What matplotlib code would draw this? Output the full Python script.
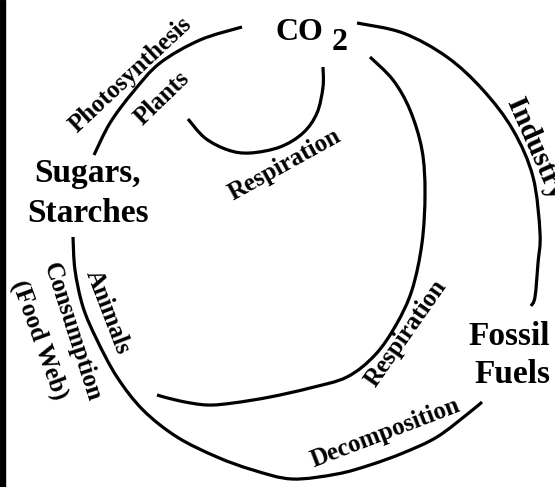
import numpy as np
import matplotlib
matplotlib.use('Agg')
import matplotlib.pyplot as plt
from matplotlib.path import Path
from matplotlib.patches import PathPatch, Rectangle

# Curves of the carbon cycle (pixel coords, y down)
photo_x = [94, 110, 133, 160, 200, 242]
photo_y = [155, 123, 92, 63, 40, 27]

plant_resp_x = [188, 205, 228, 250, 280, 303, 317, 323, 323]
plant_resp_y = [119, 138, 150, 153, 147, 133, 113, 87, 67]

animal_resp_x = [370, 393, 410, 422, 425, 422, 412, 396, 375, 347, 310, 270, 233, 207, 180, 157]
animal_resp_y = [57, 80, 110, 150, 193, 243, 290, 325, 355, 377, 388, 397, 403, 405, 401, 395]

industry_x = [357, 403, 447, 483, 513, 533, 540, 538, 535, 531]
industry_y = [23, 33, 57, 90, 130, 177, 233, 263, 297, 306]

consume_x = [73, 75, 83, 97, 117, 143, 177, 217, 253, 292, 337, 370, 403, 437, 470, 482]
consume_y = [237, 270, 307, 340, 377, 410, 437, 457, 470, 479, 474, 465, 453, 437, 412, 402]

# Node labels
nodes = ['Sugars,', 'Starches', 'Fossil', 'Fuels']
# Process labels along the arcs
processes = ['Photosynthesis', 'Plants', 'Respiration', 'Industry', 'Respiration',
             'Decomposition', 'Animals', 'Consumption', '(Food Web)']


def smooth_path(xs, ys):
    # Catmull-Rom through the traced nodes, handed to matplotlib as cubic Beziers
    pts = np.column_stack([xs, ys]).astype(float)
    verts = [pts[0]]
    codes = [Path.MOVETO]
    for i in range(len(pts) - 1):
        p0 = pts[i - 1] if i > 0 else pts[i]
        p1 = pts[i]
        p2 = pts[i + 1]
        p3 = pts[i + 2] if i + 2 < len(pts) else pts[i + 1]
        verts += [p1 + (p2 - p0) / 6, p2 - (p3 - p1) / 6, p2]
        codes += [Path.CURVE4] * 3
    return Path(verts, codes)


fig = plt.figure(figsize=(5.55, 4.87), dpi=100)
ax = fig.add_axes([0, 0, 1, 1])
ax.set_xlim(0, 555)
ax.set_ylim(487, 0)
ax.axis('off')

# black strip on the left edge
ax.add_patch(Rectangle((0, 0), 5, 487, color='black'))

for xs, ys in [(photo_x, photo_y), (plant_resp_x, plant_resp_y),
               (animal_resp_x, animal_resp_y), (industry_x, industry_y),
               (consume_x, consume_y)]:
    ax.add_patch(PathPatch(smooth_path(xs, ys), fill=False, lw=2.3,
                           edgecolor='black', capstyle='butt'))

font = dict(family='Liberation Serif', weight='bold', color='black')

# big labels
ax.text(299, 40, 'CO', fontsize=23, ha='center', va='baseline', **font)
ax.text(340, 50, '2', fontsize=23, ha='center', va='baseline', **font)
ax.text(88, 182, nodes[0], fontsize=24, ha='center', va='baseline', **font)
ax.text(88, 222, nodes[1], fontsize=24, ha='center', va='baseline', **font)
ax.text(550, 345, nodes[2], fontsize=24, ha='right', va='baseline', **font)
ax.text(550, 383, nodes[3], fontsize=24, ha='right', va='baseline', **font)

# rotated process labels: (x, y, rotation, size)
spots = [(131, 75, 43, 18), (162, 98, 44, 18), (285, 165, 29, 18),
         (513, 100, -66, 21), (406, 333, 55, 18), (385, 433, 21, 18),
         (108, 312, -69, 18), (72, 332, -72, 18), (39, 340, -70, 18)]
for label, (x, y, rot, size) in zip(processes, spots):
    ha = 'left' if label == 'Industry' else 'center'
    ax.text(x, y, label, fontsize=size, rotation=rot, rotation_mode='anchor',
            ha=ha, va='center', clip_on=False, **font)

fig.savefig('out.png', dpi=100)
